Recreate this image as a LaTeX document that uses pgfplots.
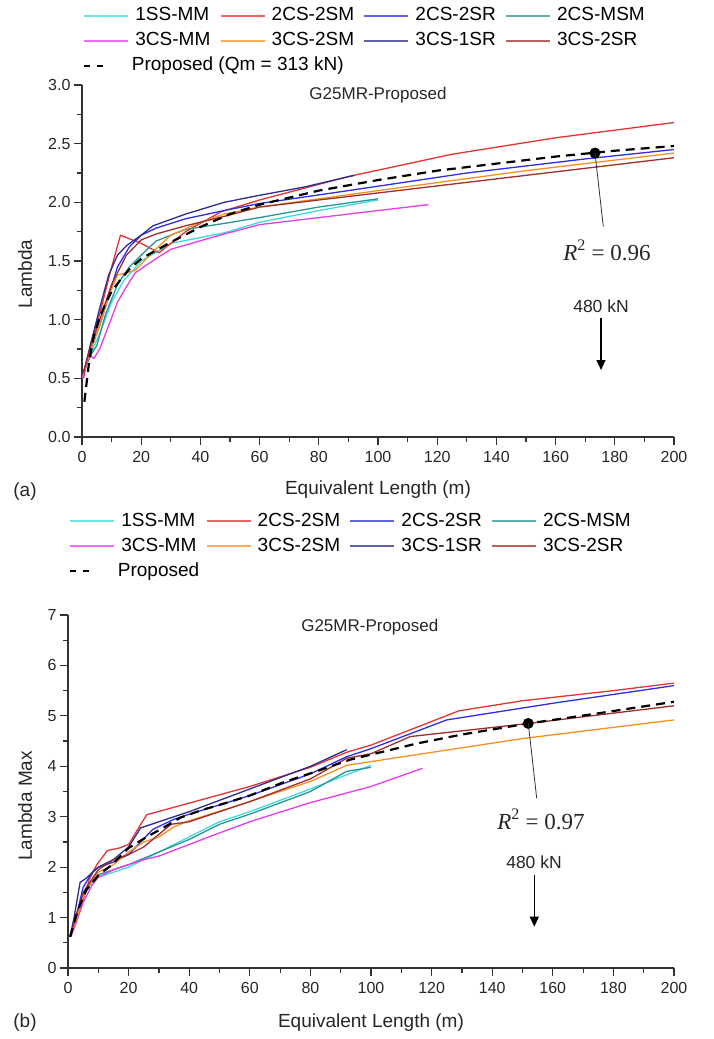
\documentclass[border=0pt]{standalone}
\usepackage{fontspec}
\setmainfont{Liberation Sans}
\newfontfamily\timesfont{Liberation Serif}
\usepackage{pgfplots}
\pgfplotsset{compat=1.18}
\usetikzlibrary{arrows.meta}

\definecolor{cCyan}{RGB}{60,220,220}
\definecolor{cRed}{RGB}{232,50,50}
\definecolor{cBlue}{RGB}{45,45,235}
\definecolor{cTeal}{RGB}{40,150,150}
\definecolor{cMag}{RGB}{232,60,232}
\definecolor{cOrange}{RGB}{245,145,35}
\definecolor{cNavy}{RGB}{45,45,140}
\definecolor{cBrown}{RGB}{160,45,45}
\definecolor{axgray}{RGB}{50,50,50}

\pgfplotsset{
 panel/.style={
  scale only axis,
  axis lines=left,
  axis line style={-, line width=1.2pt, axgray},
  tick style={line width=1.2pt, axgray},
  tick align=outside,
  major tick length=8pt,
  minor tick length=4.5pt,
  xmin=0, xmax=200,
  xtick={0,20,40,60,80,100,120,140,160,180,200},
  minor x tick num=1,
  tick label style={font=\fontsize{16}{19}\selectfont, text=black!85},
  xticklabel style={yshift=-3pt},
  label style={font=\fontsize{19}{23}\selectfont, text=black!85},
  /pgf/number format/assume math mode=true,
  legend columns=4,
  legend cell align=left,
  legend style={draw=none, fill=none, inner sep=0pt, outer sep=0pt, anchor=north west,
    font=\fontsize{19}{23}\selectfont,
    nodes={inner sep=0pt, text height=14pt, text depth=4pt},
    row sep=7pt,
    /tikz/every odd column/.append style={column sep=6pt},
    /tikz/every even column/.append style={column sep=9pt}},
  legend image code/.code={\draw[#1, line width=2.4pt, opacity=0.75] (0pt,0pt) -- (44pt,0pt);},
  every axis plot/.append style={line width=1.3pt},
 },
 prop/.style={black, line width=2.2pt, dash pattern=on 9pt off 6pt,
   legend image code/.code={\draw[#1, dash pattern=on 6pt off 7pt] (0pt,0pt) -- (20pt,0pt);}},
}

\begin{document}
\begin{tikzpicture}[x=1pt,y=1pt]
\useasboundingbox (0pt,0pt) rectangle (713pt,-1039pt);

% ---------------- panel (a) ----------------
\begin{axis}[panel, at={(82pt,-437pt)}, anchor=south west, width=592pt, height=352pt,
 ymin=0, ymax=3, ytick={0,0.5,1,1.5,2,2.5,3}, minor y tick num=1,
 yticklabel style={/pgf/number format/.cd, fixed, fixed zerofill, precision=1},
 xlabel={Equivalent Length (m)}, ylabel={Lambda},
 xlabel style={at={(axis description cs:0.5,0)}, anchor=center, yshift=-53pt},
 ylabel style={at={(axis description cs:-0.0963,0.463)}, anchor=center},
 legend style={at={(axis description cs:0.0017,1.2224)}},
]
\addplot[cCyan] coordinates {(0.5,0.55)(3,0.72)(6,0.88)(10,1.15)(14,1.33)(20,1.5)(30,1.65)(48,1.74)(60,1.83)(80,1.93)(100,2.02)};
\addlegendentry{1SS-MM}
\addplot[cRed] coordinates {(0.5,0.5)(3,0.8)(6,1.05)(9.5,1.4)(13,1.72)(20,1.65)(26,1.57)(35,1.75)(47,1.92)(60,2.02)(90,2.22)(125,2.41)(160,2.55)(200,2.68)};
\addlegendentry{2CS-2SM}
\addplot[cBlue] coordinates {(0.5,0.55)(3,0.75)(6,0.95)(9,1.2)(12,1.45)(16,1.62)(20,1.72)(25,1.78)(35,1.86)(48,1.93)(60,1.99)(90,2.1)(130,2.25)(170,2.37)(200,2.45)};
\addlegendentry{2CS-2SR}
\addplot[cTeal] coordinates {(0.5,0.55)(3,0.7)(5,0.78)(8,1.05)(12,1.3)(16,1.45)(20,1.55)(25,1.67)(35,1.77)(48,1.82)(60,1.87)(80,1.96)(100,2.03)};
\addlegendentry{2CS-MSM}
\addplot[cMag] coordinates {(0,0.5)(1.5,0.62)(2.5,0.7)(4,0.67)(6,0.75)(9,0.95)(12,1.15)(15,1.28)(18,1.4)(25,1.52)(30,1.6)(48,1.73)(60,1.81)(80,1.87)(100,1.93)(117,1.98)};
\addlegendentry{3CS-MM}
\addplot[cOrange] coordinates {(0.5,0.55)(3,0.75)(6,0.95)(9,1.2)(12,1.38)(18,1.42)(24,1.58)(30,1.72)(40,1.83)(48,1.9)(60,1.96)(100,2.1)(150,2.27)(200,2.42)};
\addlegendentry{3CS-2SM}
\addplot[cNavy] coordinates {(0.5,0.55)(3,0.8)(6,1.1)(9,1.38)(12,1.55)(15,1.63)(20,1.72)(24,1.8)(35,1.9)(48,2.0)(60,2.06)(75,2.13)(92,2.23)};
\addlegendentry{3CS-1SR}
\addplot[cBrown] coordinates {(0.5,0.55)(3,0.78)(6,1.0)(10,1.3)(15,1.55)(20,1.68)(25,1.73)(35,1.8)(48,1.88)(60,1.96)(100,2.08)(150,2.23)(200,2.38)};
\addlegendentry{3CS-2SR}
\addplot[prop] coordinates {(0.8,0.3)(1.5,0.45)(2.5,0.66)(4,0.86)(6,1.02)(8,1.14)(10,1.24)(13,1.34)(16,1.43)(20,1.52)(25,1.59)(30,1.66)(40,1.79)(50,1.9)(60,1.98)(80,2.1)(100,2.19)(120,2.27)(140,2.33)(160,2.39)(180,2.44)(200,2.48)};
\addlegendentry{\makebox[0pt][l]{\hspace*{-4pt}Proposed (Qm = 313 kN)}}
\addplot[only marks, mark=*, mark size=4.8pt, black, forget plot] coordinates {(173.3,2.42)};
\node[font=\fontsize{17}{20}\selectfont, text=black!85] at (axis description cs:0.5,0.9716) {G25MR-Proposed};
\end{axis}
\draw[line width=0.8pt, axgray] (595,-153) -- (603.3,-226.7);
\node[font=\timesfont\fontsize{23}{27}\selectfont, anchor=base, text=black!85] at (607,-260) {\textit{R}\textsuperscript{2} = 0.96};
\node[font=\fontsize{17.5}{21}\selectfont, anchor=base, text=black!85] at (601,-312) {480 kN};
\draw[line width=1.2pt, -{Triangle[width=9pt,length=10pt]}] (601,-318) -- (601,-370);
\node[font=\fontsize{19}{23}\selectfont, text=black!85] at (25,-492) {(a)};

% ---------------- panel (b) ----------------
\begin{axis}[panel, at={(68pt,-968pt)}, anchor=south west, width=606pt, height=353pt,
 ymin=0, ymax=7, ytick={0,1,2,3,4,5,6,7}, minor y tick num=1,
 xlabel={Equivalent Length (m)}, ylabel={Lambda Max},
 xlabel style={at={(axis description cs:0.5,0)}, anchor=center, yshift=-55pt},
 ylabel style={at={(axis description cs:-0.071,0.459)}, anchor=center},
 legend style={at={(axis description cs:0.00165,1.291)}},
]
\addplot[cCyan] coordinates {(0.7,0.62)(3,1.0)(5,1.4)(8,1.7)(10,1.8)(15,1.9)(20,2.0)(30,2.3)(40,2.6)(50,2.9)(60,3.1)(80,3.55)(100,4.02)};
\addlegendentry{1SS-MM}
\addplot[cRed] coordinates {(0.7,0.62)(3,1.0)(5,1.35)(7,1.75)(9.5,2.05)(13,2.33)(17,2.38)(20,2.45)(23,2.75)(26,3.04)(40,3.27)(60,3.6)(80,3.98)(92,4.28)(100,4.42)(129,5.1)(150,5.3)(180,5.5)(200,5.65)};
\addlegendentry{2CS-2SM}
\addplot[cBlue] coordinates {(0.7,0.62)(3,1.1)(5,1.6)(8,1.9)(10,2.0)(15,2.1)(20,2.25)(24,2.5)(28,2.75)(35,2.95)(40,3.05)(60,3.42)(80,3.85)(92,4.19)(100,4.35)(125,4.92)(160,5.25)(200,5.6)};
\addlegendentry{2CS-2SR}
\addplot[cTeal] coordinates {(0.7,0.62)(3,1.0)(5,1.45)(8,1.75)(10,1.85)(15,1.95)(20,2.05)(30,2.3)(40,2.55)(50,2.85)(60,3.05)(80,3.5)(92,3.9)(100,3.98)};
\addlegendentry{2CS-MSM}
\addplot[cMag] coordinates {(1,0.62)(3,0.95)(5,1.3)(8,1.65)(10,1.8)(15,1.95)(20,2.05)(25,2.15)(30,2.22)(40,2.45)(50,2.68)(60,2.9)(80,3.28)(100,3.6)(117,3.96)};
\addlegendentry{3CS-MM}
\addplot[cOrange] coordinates {(0.7,0.62)(3,1.0)(5,1.4)(8,1.75)(10,1.9)(15,2.05)(20,2.3)(25,2.5)(30,2.6)(35,2.8)(40,2.92)(60,3.3)(80,3.7)(92,4.02)(104,4.13)(150,4.55)(200,4.92)};
\addlegendentry{3CS-2SM}
\addplot[cNavy] coordinates {(0.7,0.62)(2,1.0)(4,1.7)(6,1.78)(10,2.0)(15,2.15)(20,2.4)(24,2.78)(30,2.9)(40,3.1)(60,3.55)(80,4.0)(92,4.33)};
\addlegendentry{3CS-1SR}
\addplot[cBrown] coordinates {(0.7,0.62)(3,1.1)(5,1.5)(10,1.95)(15,2.15)(20,2.25)(25,2.4)(30,2.65)(34,2.85)(40,2.9)(60,3.3)(80,3.75)(92,4.16)(100,4.25)(113,4.59)(152,4.85)(200,5.2)};
\addlegendentry{3CS-2SR}
\addplot[prop] coordinates {(0.7,0.62)(3,1.1)(6,1.55)(10.5,1.87)(14,2.02)(20,2.38)(26,2.6)(32,2.8)(37,2.98)(44,3.13)(52,3.27)(60,3.42)(71,3.68)(82,3.9)(93,4.13)(115,4.45)(130,4.63)(152,4.85)(175,5.05)(200,5.28)};
\addlegendentry{\makebox[0pt][l]{\hspace*{-4pt}Proposed}}
\addplot[only marks, mark=*, mark size=4.8pt, black, forget plot] coordinates {(151.9,4.85)};
\node[font=\fontsize{17}{20}\selectfont, text=black!85] at (axis description cs:0.498,0.967) {G25MR-Proposed};
\end{axis}
\draw[line width=0.8pt, axgray] (528.3,-723.3) -- (536.7,-798.3);
\node[font=\timesfont\fontsize{23}{27}\selectfont, anchor=base, text=black!85] at (541,-829) {\textit{R}\textsuperscript{2} = 0.97};
\node[font=\fontsize{17.5}{21}\selectfont, anchor=base, text=black!85] at (534,-868) {480 kN};
\draw[line width=1.2pt, -{Triangle[width=9pt,length=10pt]}] (534.3,-875) -- (534.3,-926.7);
\node[font=\fontsize{19}{23}\selectfont, text=black!85] at (25,-1023) {(b)};
\end{tikzpicture}
\end{document}
